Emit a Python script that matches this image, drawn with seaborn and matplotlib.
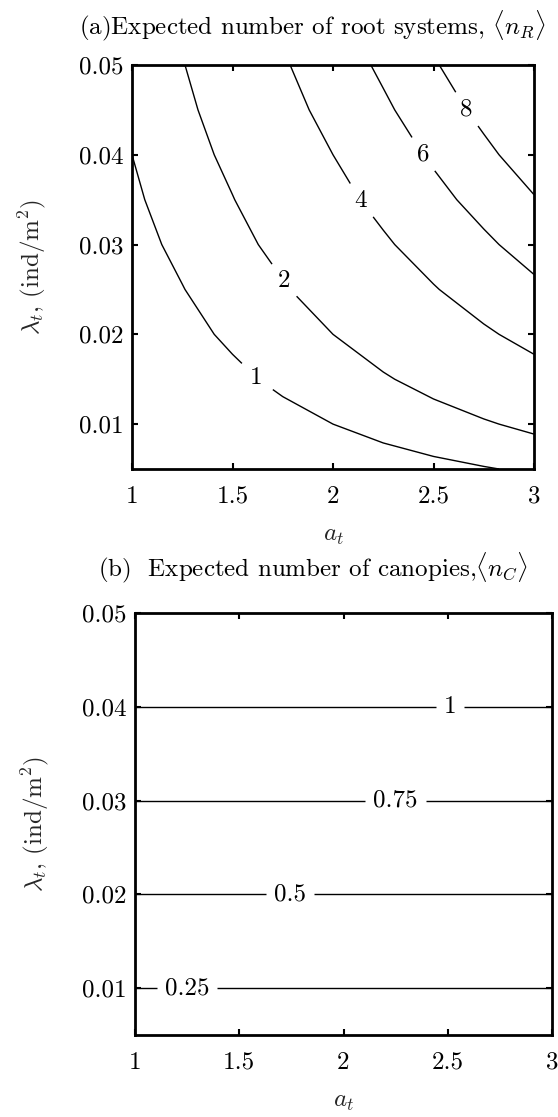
import numpy as np
import matplotlib
matplotlib.use("Agg")
import matplotlib.pyplot as plt
import seaborn as sns

# ---------------- data ----------------
a_grid = [1.0, 1.25, 1.5, 1.75, 2.0, 2.25, 2.5, 2.75, 3.0]          # a_t grid
lam_grid = [0.005, 0.01, 0.015, 0.02, 0.025, 0.03, 0.035, 0.04, 0.045, 0.05]  # lambda_t grid
root_factor = 25.0      # <n_R> = root_factor * lambda * a^2
canopy_factor = 25.0    # <n_C> = canopy_factor * lambda
root_levels = [1, 2, 4, 6, 8]
canopy_levels = [0.25, 0.5, 0.75, 1.0]
x_ticks = [1, 1.5, 2, 2.5, 3]
x_ticklabels = ["1", "1.5", "2", "2.5", "3"]
y_ticks = [0.01, 0.02, 0.03, 0.04, 0.05]
y_ticklabels = ["0.01", "0.02", "0.03", "0.04", "0.05"]
root_label_pos = [(1.62, 0.0152), (1.75, 0.0259), (2.14, 0.0349), (2.445, 0.040), (2.66, 0.045)]
canopy_label_pos = [(1.25, 0.01), (1.745, 0.02), (2.25, 0.03), (2.51, 0.04)]

title_a = r"(a)Expected number of root systems, $\langle n_R\rangle$"
title_b = r"(b)  Expected number of canopies,$\langle n_C\rangle$"
xlabel = r"$a_t$"
ylabel = r"$\lambda_t$, (ind/m$^2$)"

# ---------------- style ----------------
sns.set_theme(style="ticks")
plt.rcParams.update({
    "font.family": "serif",
    "font.serif": ["cmr10", "DejaVu Serif"],
    "mathtext.fontset": "cm",
    "axes.unicode_minus": False,
    "axes.formatter.use_mathtext": True,
    "axes.linewidth": 2.0,
    "axes.edgecolor": "black",
    "text.color": "black",
    "xtick.color": "black",
    "ytick.color": "black",
})

FS = 18

A, L = np.meshgrid(np.array(a_grid), np.array(lam_grid))
Z_root = root_factor * L * A ** 2
Z_can = canopy_factor * L + 0.0 * A

fig = plt.figure(figsize=(5.58, 11.17), dpi=100)
W, H = 558.0, 1117.0
ax1 = fig.add_axes([132 / W, 1 - 469 / H, (534 - 132) / W, (469 - 65) / H])
ax2 = fig.add_axes([135 / W, 1 - 1035 / H, (552 - 135) / W, (1035 - 613) / H])


def style_axes(ax):
    ax.set_xlim(1, 3)
    ax.set_ylim(0.005, 0.05)
    ax.set_xticks(x_ticks)
    ax.set_xticklabels(x_ticklabels)
    ax.set_yticks(y_ticks)
    ax.set_yticklabels(y_ticklabels)
    ax.tick_params(axis="both", direction="in", length=4, width=1.5,
                   top=True, right=True, labelsize=FS)
    ax.tick_params(axis="x", pad=12)
    ax.tick_params(axis="y", pad=6)
    for s in ax.spines.values():
        s.set_visible(True)
        s.set_linewidth(2.0)
        s.set_color("black")
    ax.set_xlabel(xlabel, fontsize=FS, labelpad=12)
    ax.set_ylabel(ylabel, fontsize=FS, labelpad=22)


cs1 = ax1.contour(A, L, Z_root, levels=root_levels, colors="black", linewidths=1.0)
labels1 = ax1.clabel(cs1, fmt="%g", fontsize=FS, inline=True, inline_spacing=14,
                     manual=root_label_pos)
for t in labels1:
    t.set_rotation(0)
style_axes(ax1)
ax1.set_title(title_a, fontsize=FS, x=0.448, pad=22)

cs2 = ax2.contour(A, L, Z_can, levels=canopy_levels, colors="black", linewidths=1.0)
labels2 = ax2.clabel(cs2, fmt="%g", fontsize=FS, inline=True, inline_spacing=8,
                     manual=canopy_label_pos)
for t in labels2:
    t.set_rotation(0)
style_axes(ax2)
ax2.set_title(title_b, fontsize=FS, x=0.428, pad=26)

fig.savefig("out.png", dpi=100)
